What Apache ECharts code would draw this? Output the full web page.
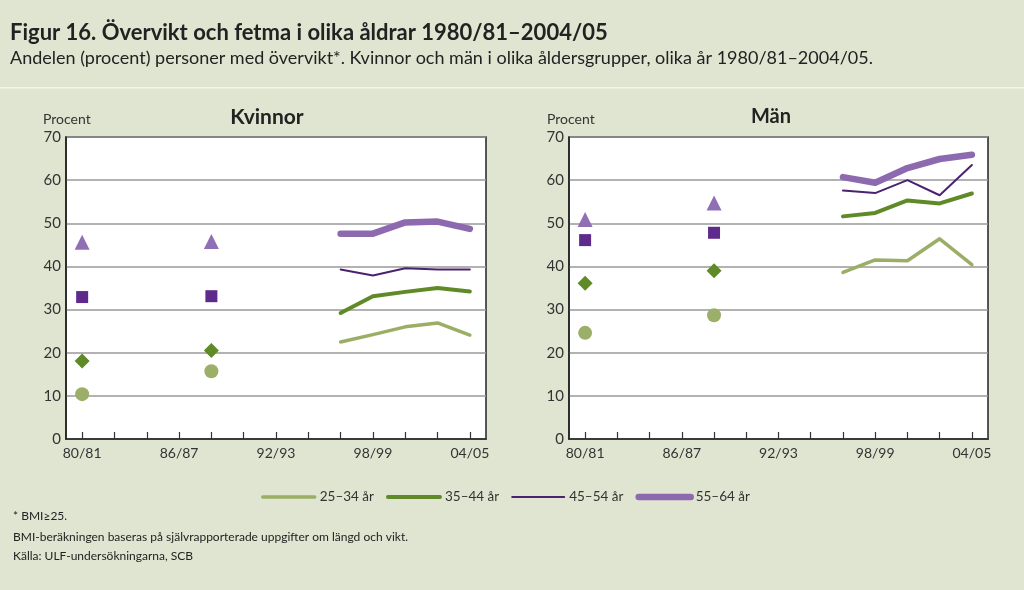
<!DOCTYPE html>
<html>
<head>
<meta charset="utf-8">
<script src="https://cdn.jsdelivr.net/npm/echarts@6/dist/echarts.min.js"></script>
<style>
html,body{margin:0;padding:0;background:#e0e5d1;}
#chart{width:1024px;height:590px;}
</style>
</head>
<body>
<div id="chart"></div>
<script>
// ---- Data ----
const categories = ['80/81','82/83','84/85','86/87','88/89','90/91','92/93','94/95','96/97','98/99','00/01','02/03','04/05'];
const yTicks = [0,10,20,30,40,50,60,70];
const groups = ['25–34 år','35–44 år','45–54 år','55–64 år'];
const pointCats = ['80/81','88/89'];
const lineCats = ['96/97','98/99','00/01','02/03','04/05'];

// Kvinnor
const kvinnor25Points = [10.4, 15.7];
const kvinnor35Points = [18.1, 20.5];
const kvinnor45Points = [32.9, 33.1];
const kvinnor55Points = [45.6, 45.8];
const kvinnor25Line = [22.5, 24.2, 26.0, 26.9, 24.1];
const kvinnor35Line = [29.2, 33.1, 34.1, 35.0, 34.2];
const kvinnor45Line = [39.3, 37.9, 39.6, 39.3, 39.3];
const kvinnor55Line = [47.6, 47.6, 50.2, 50.4, 48.7];

// Män
const man25Points = [24.6, 28.7];
const man35Points = [36.1, 39.0];
const man45Points = [46.1, 47.8];
const man55Points = [50.9, 54.7];
const man25Line = [38.6, 41.5, 41.3, 46.4, 40.4];
const man35Line = [51.6, 52.4, 55.3, 54.6, 56.9];
const man45Line = [57.6, 57.0, 60.0, 56.5, 63.5];
const man55Line = [60.7, 59.4, 62.8, 64.9, 65.9];

// ---- Styles ----
const FONT = 'Lato, "DejaVu Sans", sans-serif';
const lineColors = ['#9bae66', '#5f8a27', '#4b226f', '#8d69b0'];
const lineWidths = [3.5, 4, 2, 6.5];
const markerColors = ['#9caf68', '#5e8a28', '#5e2b8c', '#9070b5'];
const markerSymbols = ['circle', 'diamond', 'rect', 'triangle'];
const markerSizes = [14, 15, 12, 15];

function pairs(cats, vals){ return cats.map((c,i)=>[c, vals[i]]); }

const panels = [
  {points:[kvinnor25Points,kvinnor35Points,kvinnor45Points,kvinnor55Points],
   lines:[kvinnor25Line,kvinnor35Line,kvinnor45Line,kvinnor55Line]},
  {points:[man25Points,man35Points,man45Points,man55Points],
   lines:[man25Line,man35Line,man45Line,man55Line]}
];

const grids = [
  {left:66, top:137, width:420, height:302},
  {left:569, top:137, width:419, height:302}
].map(g => Object.assign(g, {show:true, backgroundColor:'#ffffff', borderColor:'#222', borderWidth:1.5}));

const xAxes = [0,1].map(i => ({
  type:'category', gridIndex:i, data:categories, boundaryGap:true,
  axisLine:{show:true, lineStyle:{color:'#222', width:1.5}},
  axisTick:{show:true, alignWithLabel:true, inside:true, length:7, interval:0, lineStyle:{color:'#333', width:1.2}},
  axisLabel:{interval:2, color:'#333', fontSize:14, fontFamily:FONT, margin:7},
  splitLine:{show:false}
}));

const yAxes = [0,1].map(i => ({
  type:'value', gridIndex:i, min:yTicks[0], max:yTicks[yTicks.length-1], interval:10,
  axisLine:{show:true, lineStyle:{color:'#222', width:1.5}},
  axisTick:{show:false},
  axisLabel:{color:'#333', fontSize:15, fontFamily:FONT, margin:5},
  splitLine:{show:true, lineStyle:{color:'#999', width:1.5}}
}));

const series = [];
panels.forEach((p, pi) => {
  groups.forEach((g, gi) => {
    series.push({
      name:g, type:'line', xAxisIndex:pi, yAxisIndex:pi,
      data:pairs(lineCats, p.lines[gi]), symbol:'none', z:3,
      lineStyle:{color:lineColors[gi], width:lineWidths[gi], cap:'round', join:'round'},
      itemStyle:{color:lineColors[gi]}
    });
  });
  groups.forEach((g, gi) => {
    series.push({
      name:g + ' (punkt)', type:'scatter', xAxisIndex:pi, yAxisIndex:pi,
      data:pairs(pointCats, p.points[gi]), symbol:markerSymbols[gi], symbolSize:markerSizes[gi], z:4,
      itemStyle:{color:markerColors[gi], opacity:1}
    });
  });
});

const option = {
  backgroundColor:'#e0e5d1',
  animation:false,
  textStyle:{fontFamily:FONT},
  grid:grids,
  xAxis:xAxes,
  yAxis:yAxes,
  legend:{
    data:groups, left:256, top:485, itemWidth:52, itemHeight:8, itemGap:12,
    itemStyle:{opacity:0},
    lineStyle:{width:'inherit', cap:'round'},
    textStyle:{color:'#333', fontSize:13.5, fontFamily:FONT},
    selectedMode:false
  },
  series:series,
  graphic:[
    {type:'rect', shape:{x:0,y:87,width:1024,height:1.5}, style:{fill:'#f3f5ec'}, silent:true},
    {type:'text', left:10, top:22, style:{text:'Figur 16. Övervikt och fetma i olika åldrar 1980/81–2004/05', font:'bold 22px '+FONT, fill:'#222'}},
    {type:'text', left:10, top:49, style:{text:'Andelen (procent) personer med övervikt*. Kvinnor och män i olika åldersgrupper, olika år 1980/81–2004/05.', font:'18px '+FONT, fill:'#222'}},
    {type:'text', left:43, top:112, style:{text:'Procent', font:'14px '+FONT, fill:'#333'}},
    {type:'text', left:547, top:112, style:{text:'Procent', font:'14px '+FONT, fill:'#333'}},
    {type:'text', x:267, y:117, style:{text:'Kvinnor', font:'bold 21px '+FONT, fill:'#222', align:'center', verticalAlign:'middle'}},
    {type:'text', x:771, y:117, style:{text:'Män', font:'bold 20px '+FONT, fill:'#222', align:'center', verticalAlign:'middle'}},
    {type:'text', left:13, top:510, style:{text:'* BMI≥25.', font:'12px '+FONT, fill:'#222'}},
    {type:'text', left:13, top:531, style:{text:'BMI-beräkningen baseras på självrapporterade uppgifter om längd och vikt.', font:'12px '+FONT, fill:'#222'}},
    {type:'text', left:13, top:550, style:{text:'Källa: ULF-undersökningarna, SCB', font:'12px '+FONT, fill:'#222'}}
  ]
};

const chart = echarts.init(document.getElementById('chart'), null, {renderer:'canvas'});
chart.setOption(option);
</script>
</body>
</html>
